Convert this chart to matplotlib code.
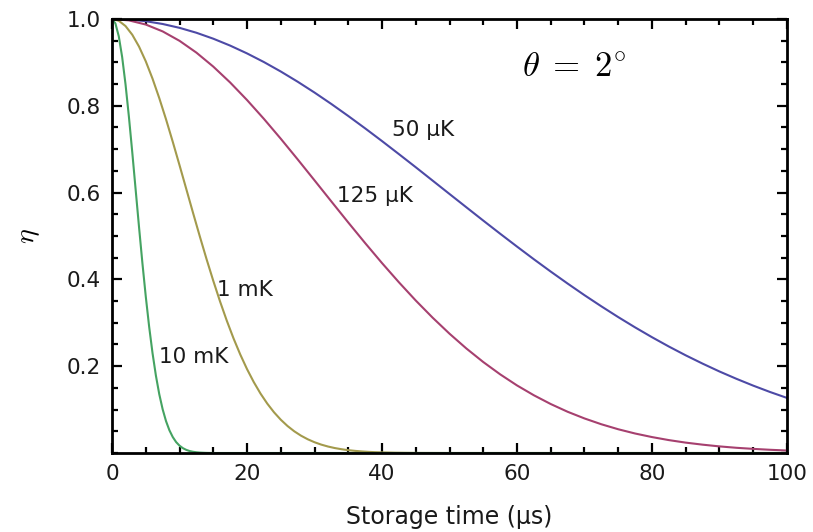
import matplotlib
matplotlib.use("Agg")
import matplotlib.pyplot as plt
from matplotlib.ticker import MultipleLocator

plt.rcParams["font.family"] = ["DejaVu Sans"]
plt.rcParams["mathtext.fontset"] = "cm"

# storage efficiency vs storage time for four atom temperatures
T_50UK = [0, 2.5, 5, 7.5, 10, 12.5, 15, 17.5, 20, 22.5, 25, 27.5, 30, 32.5, 35, 37.5, 40,
          42.5, 45, 47.5, 50, 52.5, 55, 57.5, 60, 62.5, 65, 67.5, 70, 72.5, 75, 77.5, 80,
          82.5, 85, 87.5, 90, 92.5, 95, 97.5, 100]
ETA_50UK = [1.0, 0.9987, 0.9949, 0.9885, 0.9796, 0.9683, 0.9546, 0.9387, 0.9207, 0.9008,
            0.8790, 0.8555, 0.8305, 0.8041, 0.7765, 0.7480, 0.7187, 0.6887, 0.6584, 0.6276,
            0.5968, 0.5661, 0.5355, 0.5053, 0.4756, 0.4464, 0.4180, 0.3904, 0.3636, 0.3379,
            0.3131, 0.2894, 0.2668, 0.2453, 0.2250, 0.2059, 0.1878, 0.1710, 0.1552, 0.1405,
            0.1269]

T_125UK = T_50UK
ETA_125UK = [1.0, 0.9968, 0.9872, 0.9714, 0.9497, 0.9225, 0.8903, 0.8537, 0.8133, 0.7699,
             0.7241, 0.6766, 0.6282, 0.5795, 0.5311, 0.4837, 0.4376, 0.3934, 0.3513, 0.3118,
             0.2749, 0.2408, 0.2096, 0.1813, 0.1557, 0.1330, 0.1128, 0.0950, 0.0796, 0.0662,
             0.0547, 0.0449, 0.0367, 0.0297, 0.0239, 0.0192, 0.0152, 0.0120, 0.0095, 0.0074,
             0.0057]

T_1MK = [0, 1, 2, 3, 4, 5, 6, 7, 8, 9, 10, 11, 12, 13, 14, 15, 16, 17, 18, 19, 20, 21, 22,
         23, 24, 25, 26, 27, 28, 29, 30, 31, 32, 33, 34, 35, 36, 37, 38, 39, 40, 42, 45, 50,
         100]
ETA_1MK = [1.0, 0.9959, 0.9837, 0.9637, 0.9364, 0.9024, 0.8625, 0.8176, 0.7688, 0.7169,
           0.6631, 0.6083, 0.5534, 0.4994, 0.4469, 0.3968, 0.3493, 0.3050, 0.2641, 0.2269,
           0.1933, 0.1634, 0.1369, 0.1138, 0.0938, 0.0767, 0.0622, 0.0500, 0.0399, 0.0316,
           0.0248, 0.0193, 0.0149, 0.0114, 0.0087, 0.0065, 0.0049, 0.0036, 0.0026, 0.0019,
           0.0014, 0.0007, 0.0002, 0.0, 0.0]

T_10MK = [0, 0.5, 1, 1.5, 2, 2.5, 3, 3.5, 4, 4.5, 5, 5.5, 6, 6.5, 7, 7.5, 8, 8.5, 9, 9.5,
          10, 10.5, 11, 11.5, 12, 12.5, 13, 13.5, 14, 15, 100]
ETA_10MK = [1.0, 0.9898, 0.9600, 0.9123, 0.8493, 0.7748, 0.6926, 0.6065, 0.5205, 0.4376,
            0.3604, 0.2909, 0.2301, 0.1783, 0.1353, 0.1007, 0.0734, 0.0524, 0.0367, 0.0251,
            0.0169, 0.0111, 0.0072, 0.0045, 0.0028, 0.0017, 0.0010, 0.0006, 0.0003, 0.0,
            0.0]

SERIES = [
    (T_50UK, ETA_50UK, "#4d4aa6"),
    (T_125UK, ETA_125UK, "#a6406f"),
    (T_1MK, ETA_1MK, "#a39a4c"),
    (T_10MK, ETA_10MK, "#45a362"),
]

LABELS = [
    ("50 μK", 41.5, 0.744),
    ("125 μK", 33.3, 0.592),
    ("1 mK", 15.6, 0.376),
    ("10 mK", 7.0, 0.221),
]


def main() -> None:
    fig = plt.figure(figsize=(8.13, 5.32), dpi=100)
    ax = fig.add_axes([0.1378, 0.1485, 0.8302, 0.8158])

    for t, eta, color in SERIES:
        ax.plot(t, eta, color=color, lw=1.5)

    for text, x, y in LABELS:
        ax.text(x, y, text, fontsize=15.5, ha="left", va="center", color="#1a1a1a")

    ax.text(68.5, 0.889, r"$\theta\;=\;2^{\circ}$", fontsize=25, ha="center", va="center")

    ax.set_xlim(0, 100)
    ax.set_ylim(0, 1.0)
    ax.set_xticks([0, 20, 40, 60, 80, 100])
    ax.set_yticks([0.2, 0.4, 0.6, 0.8, 1.0])
    ax.xaxis.set_minor_locator(MultipleLocator(5))
    ax.yaxis.set_minor_locator(MultipleLocator(0.05))
    ax.tick_params(which="both", direction="in", top=True, right=True,
                   labelsize=15.5, labelcolor="#1a1a1a", width=1.6)
    ax.tick_params(which="major", length=7, pad=8)
    ax.tick_params(which="minor", length=4.5)
    for spine in ax.spines.values():
        spine.set_linewidth(2.0)

    ax.set_xlabel("Storage time (μs)", fontsize=17, color="#1a1a1a", labelpad=15)
    ax.set_ylabel(r"$\eta$", fontsize=20, labelpad=18)

    fig.savefig("out.png", dpi=100)
    plt.close(fig)


if __name__ == "__main__":
    main()
